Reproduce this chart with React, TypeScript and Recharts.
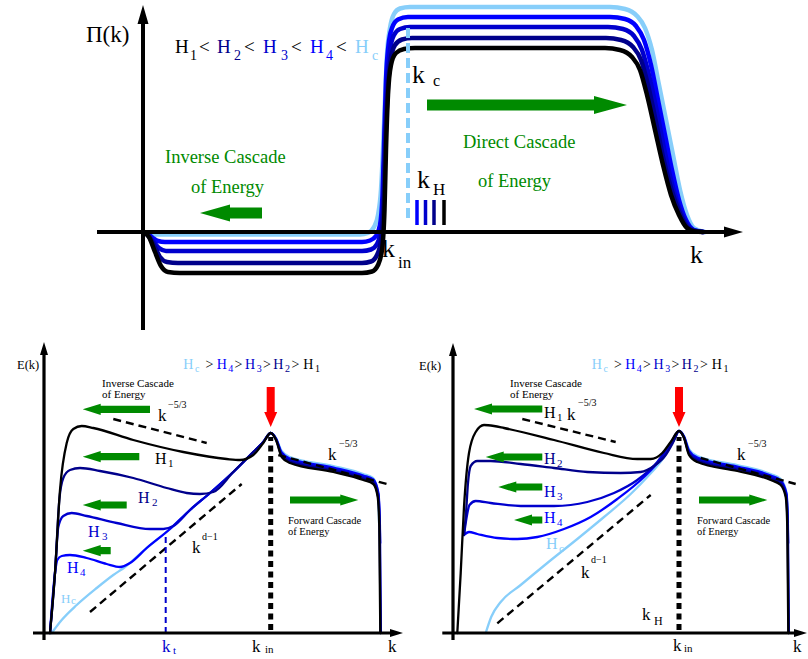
import React from 'react';
import { LineChart, Line, XAxis, YAxis, ReferenceLine } from 'recharts';

type Pt = [number, number];

// ---------- colours per helicity ----------
const C_H1 = '#000000';
const C_H2 = '#00008b';
const C_H3 = '#0000cd';
const C_H4 = '#0000ff';
const C_HC = '#87cefa';
const GREEN = '#008a00';
const RED = '#ff0000';

// ---------- top panel: flux Π(k) ----------
const topHc: Pt[] = [[0, 0], [0.6, -0.02], [1.5, -0.025], [21.7, -0.025], [22.5, -0.01], [23.1, 0.05], [23.5, 0.17], [23.8, 0.42], [24.0, 0.82], [24.2, 1.32], [24.4, 1.77], [24.7, 2.04], [25.1, 2.18], [25.7, 2.235], [26.7, 2.25], [46.7, 2.25], [48.2, 2.23], [49.4, 2.16], [50.2, 2.04], [50.9, 1.82], [51.6, 1.47], [52.3, 1.12], [53.0, 0.77], [53.7, 0.42], [54.4, 0.17], [55.1, 0.04], [56.2, 0]];
const topH4: Pt[] = [[0, 0], [0.5, -0.02], [1.0, -0.06], [1.5, -0.09], [2.2, -0.1], [21.9, -0.1], [22.7, -0.085], [23.3, -0.04], [23.7, 0.07], [23.95, 0.37], [24.15, 1.02], [24.3, 1.52], [24.55, 1.87], [24.9, 2.04], [25.5, 2.125], [26.5, 2.15], [46.7, 2.15], [48.2, 2.13], [49.3, 2.06], [50.1, 1.92], [50.8, 1.67], [51.5, 1.32], [52.2, 0.97], [52.9, 0.62], [53.6, 0.32], [54.3, 0.12], [55.1, 0.02], [56.1, 0]];
const topH3: Pt[] = [[0, 0], [0.5, -0.025], [1.0, -0.09], [1.6, -0.16], [2.3, -0.19], [3.2, -0.19], [21.9, -0.19], [22.8, -0.175], [23.4, -0.12], [23.8, 0.02], [24.05, 0.42], [24.2, 1.02], [24.4, 1.47], [24.7, 1.82], [25.1, 1.97], [25.7, 2.03], [26.7, 2.05], [46.5, 2.05], [48.0, 2.03], [49.1, 1.96], [49.9, 1.82], [50.6, 1.57], [51.4, 1.2], [52.1, 0.84], [52.8, 0.52], [53.6, 0.25], [54.3, 0.09], [55.1, 0.015], [56.0, 0]];
const topH2: Pt[] = [[0, 0], [0.5, -0.035], [1.1, -0.13], [1.7, -0.25], [2.4, -0.3], [3.5, -0.31], [21.9, -0.31], [22.8, -0.295], [23.4, -0.23], [23.8, -0.08], [24.1, 0.37], [24.25, 0.92], [24.45, 1.37], [24.75, 1.72], [25.2, 1.87], [25.9, 1.925], [26.9, 1.94], [46.3, 1.94], [47.8, 1.92], [49.0, 1.85], [49.8, 1.72], [50.5, 1.47], [51.3, 1.1], [52.0, 0.75], [52.8, 0.44], [53.6, 0.21], [54.3, 0.07], [55.1, 0.01], [56.0, 0]];
const topH1: Pt[] = [[0, 0], [0.6, -0.05], [1.2, -0.2], [1.8, -0.34], [2.5, -0.4], [3.7, -0.41], [21.9, -0.41], [22.9, -0.395], [23.5, -0.33], [23.9, -0.18], [24.15, 0.22], [24.3, 0.82], [24.5, 1.37], [24.8, 1.67], [25.3, 1.79], [26.1, 1.83], [27.2, 1.84], [46.2, 1.84], [47.7, 1.82], [48.9, 1.75], [49.7, 1.62], [50.4, 1.37], [51.2, 1.02], [52.0, 0.67], [52.8, 0.37], [53.6, 0.17], [54.4, 0.04], [55.2, 0.005], [56.0, 0]];
const topKc = 26.5;
const topKHBars = [27.4, 28.25, 29.1, 30.1];
const topKHColors = [C_H4, C_H3, C_H2, C_H1];

// ---------- bottom-left panel: E(k), k_t < k_in ----------
const blH1: Pt[] = [[0.6, 0], [1.1, 0.6], [1.6, 1.43], [2.27, 1.9], [2.93, 2.04], [3.77, 2.07], [4.93, 2.05], [8.93, 1.93], [13.93, 1.81], [18.27, 1.74], [19.6, 1.73], [20.93, 1.78], [21.93, 1.9], [22.67, 2.0], [23.2, 1.93], [23.77, 1.76], [24.6, 1.7], [28.93, 1.61], [31.93, 1.53], [32.93, 1.49], [33.37, 1.36], [33.53, 1.06], [33.63, 0]];
const blH2: Pt[] = [[0.6, 0], [1.1, 0.6], [1.53, 1.33], [1.93, 1.55], [2.6, 1.63], [3.6, 1.65], [5.6, 1.62], [8.93, 1.55], [12.27, 1.45], [14.27, 1.4], [15.6, 1.39], [16.93, 1.41], [18.93, 1.61], [20.93, 1.81], [21.93, 1.91], [22.67, 2.0], [23.2, 1.935], [23.77, 1.775], [24.6, 1.715], [28.93, 1.625], [31.93, 1.545], [32.93, 1.505], [33.4, 1.37], [33.56, 1.07], [33.66, 0]];
const blH3: Pt[] = [[0.6, 0], [1.1, 0.6], [1.43, 1.06], [1.93, 1.17], [2.77, 1.2], [4.27, 1.17], [7.27, 1.1], [10.6, 1.04], [11.93, 1.04], [12.93, 1.07], [14.6, 1.23], [16.6, 1.4], [18.93, 1.61], [20.93, 1.81], [21.93, 1.91], [22.67, 2.0], [23.2, 1.94], [23.77, 1.79], [24.6, 1.73], [28.93, 1.64], [31.93, 1.56], [32.93, 1.52], [33.43, 1.38], [33.59, 1.08], [33.69, 0]];
const blH4: Pt[] = [[0.6, 0], [1.1, 0.6], [1.33, 0.73], [1.77, 0.77], [2.6, 0.78], [4.27, 0.75], [6.27, 0.69], [7.6, 0.66], [8.6, 0.7], [10.27, 0.85], [12.6, 1.04], [14.6, 1.23], [16.6, 1.4], [18.93, 1.61], [20.93, 1.81], [21.93, 1.91], [22.67, 2.0], [23.2, 1.945], [23.77, 1.805], [24.6, 1.745], [28.93, 1.655], [31.93, 1.575], [32.93, 1.535], [33.46, 1.39], [33.62, 0.9]];
const blHc: Pt[] = [[0.77, 0], [1.77, 0.13], [3.27, 0.28], [5.27, 0.45], [6.93, 0.58], [8.1, 0.66], [10.27, 0.85], [12.6, 1.04], [14.6, 1.23], [16.6, 1.4], [18.93, 1.61], [20.93, 1.81], [21.93, 1.91], [22.67, 2.0], [23.2, 1.95], [23.77, 1.82], [24.6, 1.76], [28.93, 1.67], [31.93, 1.59], [32.9, 1.55], [33.4, 1.4], [33.5, 1.1]];
const blSlopeLeft: Pt[] = [[6.93, 2.14], [16.27, 1.9]];
const blSlopeRight: Pt[] = [[23.43, 1.78], [34.27, 1.49]];
const blSlopeDm1: Pt[] = [[4.6, 0.21], [19.77, 1.49]];
const blKin = 22.67;
const blKt = 12.17;
const blKtTop = 0.98;
const blInverseArrows: Pt[] = [[3.87, 10.6], [3.87, 9.53], [3.87, 8.27], [3.87, 6.67]];
const blInverseArrowE = [2.237, 1.763, 1.28, 0.823];

// ---------- bottom-right panel: E(k), k_H ----------
const brH1: Pt[] = [[0.43, 0], [0.77, 0.6], [1.1, 1.26], [1.6, 1.8], [2.27, 2.01], [3.1, 2.08], [4.1, 2.07], [5.1, 2.05], [10.1, 1.93], [15.1, 1.8], [18.43, 1.74], [19.77, 1.74], [20.93, 1.8], [21.77, 1.91], [22.6, 2.02], [23.1, 1.95], [23.6, 1.78], [24.43, 1.71], [28.43, 1.62], [31.77, 1.53], [32.77, 1.48], [33.27, 1.36], [33.43, 1.06], [33.53, 0]];
const brH2: Pt[] = [[1.1, 0.98], [1.3, 1.2], [1.5, 1.5], [1.77, 1.67], [2.43, 1.72], [3.77, 1.72], [6.77, 1.69], [10.1, 1.65], [13.43, 1.61], [16.77, 1.6], [18.77, 1.61], [20.1, 1.67], [21.27, 1.78], [22.03, 1.91], [22.6, 2.02], [23.1, 1.955], [23.6, 1.795], [24.43, 1.725], [28.43, 1.635], [31.77, 1.545], [32.77, 1.495], [33.3, 1.37], [33.46, 1.07], [33.56, 0]];
const brH3: Pt[] = [[1.1, 0.98], [1.35, 1.15], [1.65, 1.28], [2.27, 1.32], [3.77, 1.3], [6.77, 1.27], [10.1, 1.27], [13.43, 1.31], [16.1, 1.4], [18.43, 1.53], [20.43, 1.71], [21.77, 1.9], [22.6, 2.02], [23.1, 1.96], [23.6, 1.81], [24.43, 1.74], [28.43, 1.65], [31.77, 1.56], [32.77, 1.51], [33.33, 1.38], [33.49, 1.08], [33.59, 0]];
const brH4: Pt[] = [[1.1, 0.98], [1.6, 1.01], [2.43, 0.99], [4.43, 0.95], [6.43, 0.94], [8.43, 0.96], [11.1, 1.04], [13.77, 1.16], [16.43, 1.34], [19.1, 1.56], [21.1, 1.78], [22.1, 1.93], [22.6, 2.02], [23.1, 1.965], [23.6, 1.825], [24.43, 1.755], [28.43, 1.665], [31.77, 1.575], [32.77, 1.525], [33.36, 1.39], [33.52, 0.9]];
const brHc: Pt[] = [[3.27, 0], [3.83, 0.163], [4.77, 0.31], [6.77, 0.48], [9.43, 0.7], [12.43, 0.94], [15.1, 1.16], [17.77, 1.39], [19.43, 1.56], [21.1, 1.76], [22.1, 1.93], [22.6, 2.02], [23.1, 1.97], [23.6, 1.84], [24.43, 1.77], [28.43, 1.68], [31.77, 1.59], [32.77, 1.54], [33.36, 1.4], [33.5, 1.1]];
const brSlopeLeft: Pt[] = [[6.93, 2.14], [16.27, 1.91]];
const brSlopeRight: Pt[] = [[24.77, 1.75], [34.27, 1.49]];
const brSlopeDm1: Pt[] = [[4.43, 0.097], [19.77, 1.38]];
const brKin = 22.6;
const brInverseArrows: Pt[] = [[2.1, 8.93], [3.27, 8.93], [4.53, 8.93], [6.1, 8.93]];
const brInverseArrowE = [2.24, 1.76, 1.46, 1.13];

const FONT = '"Liberation Serif", "Times New Roman", Times, "DejaVu Serif", serif';

const toRows = (pts: Pt[]) => pts.map(([k, v]) => ({ k, v }));

function arrowShape(sw: number, hw: number, hl: number, fill: string) {
  return (p: any) => {
    const x1 = Number(p.x1), y1 = Number(p.y1), x2 = Number(p.x2), y2 = Number(p.y2);
    const dx = x2 - x1, dy = y2 - y1;
    const len = Math.hypot(dx, dy) || 1;
    const ux = dx / len, uy = dy / len;
    const nx = -uy, ny = ux;
    const bx = x2 - ux * hl, by = y2 - uy * hl;
    const pts = [
      [x1 + nx * sw, y1 + ny * sw],
      [bx + nx * sw, by + ny * sw],
      [bx + nx * hw, by + ny * hw],
      [x2, y2],
      [bx - nx * hw, by - ny * hw],
      [bx - nx * sw, by - ny * sw],
      [x1 - nx * sw, y1 - ny * sw],
    ];
    return <polygon points={pts.map((q) => q.join(',')).join(' ')} fill={fill} stroke="none" />;
  };
}

function curve(key: string, pts: Pt[], color: string, w: number) {
  return (
    <Line
      key={key}
      data={toRows(pts)}
      dataKey="v"
      type="monotone"
      stroke={color}
      strokeWidth={w}
      dot={false}
      activeDot={false}
      isAnimationActive={false}
      strokeLinecap="round"
      strokeLinejoin="round"
    />
  );
}

function guide(key: string, pts: Pt[]) {
  return (
    <Line
      key={key}
      data={toRows(pts)}
      dataKey="v"
      type="linear"
      stroke="#000"
      strokeWidth={2.4}
      strokeDasharray="8 5"
      dot={false}
      activeDot={false}
      isAnimationActive={false}
    />
  );
}

function arrow(key: string, from: Pt, to: Pt, shape: (p: any) => any) {
  return (
    <ReferenceLine
      key={key}
      segment={[{ x: from[0], y: from[1] }, { x: to[0], y: to[1] }]}
      ifOverflow="visible"
      shape={shape}
    />
  );
}

function vline(key: string, k: number, e0: number, e1: number, color: string, w: number, dash: string) {
  return (
    <ReferenceLine
      key={key}
      segment={[{ x: k, y: e0 }, { x: k, y: e1 }]}
      ifOverflow="visible"
      stroke={color}
      strokeWidth={w}
      strokeDasharray={dash}
    />
  );
}

function Panel(props: { left: number; top: number; width: number; height: number; xd: [number, number]; yd: [number, number]; children: any }) {
  const { left, top, width, height, xd, yd, children } = props;
  return (
    <div style={{ position: 'absolute', left, top, width, height }}>
      <LineChart width={width} height={height} margin={{ top: 0, right: 0, bottom: 0, left: 0 }}>
        <XAxis type="number" dataKey="k" domain={xd} hide allowDataOverflow />
        <YAxis type="number" domain={yd} hide allowDataOverflow />
        {children}
      </LineChart>
    </div>
  );
}

const T = (p: { x: number; y: number; s: number; c?: string; children: any }) => (
  <text x={p.x} y={p.y} fill={p.c || '#000'} style={{ fontFamily: FONT, fontSize: p.s }}>
    {p.children}
  </text>
);

function BottomTitle({ dx }: { dx: number }) {
  const items: [string, number, number, number, string][] = [
    ['H', 183.3, 369, 14, C_HC], ['c', 195, 372, 10, C_HC], ['>', 205.5, 369, 14, '#000'],
    ['H', 216.7, 369, 14, C_H4], ['4', 228.3, 372, 10, C_H4], ['>', 234.5, 369, 14, '#000'],
    ['H', 245, 369, 14, C_H3], ['3', 256.7, 372, 10, C_H3], ['>', 263, 369, 14, '#000'],
    ['H', 273.3, 369, 14, C_H2], ['2', 285, 372, 10, C_H2], ['>', 291.5, 369, 14, '#000'],
    ['H', 303.3, 369, 14, C_H1], ['1', 315, 372, 10, C_H1],
  ];
  return (
    <g>
      {items.map((it, i) => (
        <T key={i} x={it[1] + dx} y={it[2]} s={it[3]} c={it[4]}>{it[0]}</T>
      ))}
    </g>
  );
}

export default function App() {
  const bigAxis = arrowShape(2, 5.5, 19, '#000');
  const smallAxis = arrowShape(1.6, 4, 13, '#000');
  const greenBig = arrowShape(5.5, 9, 33, GREEN);
  const greenBigInv = arrowShape(5.5, 8.5, 30, GREEN);
  const greenSmall = arrowShape(3.6, 5.6, 18, GREEN);
  const redArrow = arrowShape(4, 6.5, 15, RED);

  const topTitle: [string, number, number, number, string][] = [
    ['H', 175, 53, 19, C_H1], ['1', 190, 60, 14, C_H1], ['<', 199, 53, 19, '#000'],
    ['H', 217, 53, 19, C_H2], ['2', 234, 60, 14, C_H2], ['<', 244, 53, 19, '#000'],
    ['H', 263, 53, 19, C_H3], ['3', 281, 60, 14, C_H3], ['<', 291, 53, 19, '#000'],
    ['H', 310, 53, 19, C_H4], ['4', 326, 60, 14, C_H4], ['<', 336, 53, 19, '#000'],
    ['H', 355, 53, 19, C_HC], ['c', 372, 60, 14, C_HC],
  ];

  return (
    <div style={{ position: 'absolute', left: 0, top: 0, width: 808, height: 659, background: '#fff', overflow: 'hidden', fontFamily: FONT }}>
      {/* ---------- top ---------- */}
      <Panel left={0} top={0} width={808} height={335} xd={[-14.3, 66.5]} yd={[-1.03, 2.32]}>
        {curve('thc', topHc, C_HC, 4.5)}
        {curve('th4', topH4, C_H4, 4.5)}
        {curve('th3', topH3, C_H3, 4.5)}
        {curve('th2', topH2, C_H2, 4.5)}
        {curve('th1', topH1, C_H1, 4.5)}
        {arrow('tax', [-4.6, 0], [60.0, 0], bigAxis)}
        {arrow('tay', [0, -0.98], [0, 2.27], bigAxis)}
        {vline('tkc', topKc, 2.04, 0.09, C_HC, 4, '10 5')}
        {topKHBars.map((k, i) => vline('tkh' + i, k, 0.32, 0.07, topKHColors[i], 3.5, ''))}
        {arrow('tgd', [28.4, 1.27], [48.4, 1.27], greenBig)}
        {arrow('tgi', [11.9, 0.19], [5.7, 0.19], greenBigInv)}
      </Panel>

      {/* ---------- bottom left ---------- */}
      <Panel left={0} top={340} width={404} height={319} xd={[-4.4, 36]} yd={[-0.26, 2.93]}>
        {curve('bhc', blHc, C_HC, 2.3)}
        {curve('bh4', blH4, C_H4, 2.3)}
        {curve('bh3', blH3, C_H3, 2.3)}
        {curve('bh2', blH2, C_H2, 2.3)}
        {curve('bh1', blH1, C_H1, 2.3)}
        {guide('bg1', blSlopeLeft)}
        {guide('bg2', blSlopeRight)}
        {guide('bg3', blSlopeDm1)}
        {vline('bkin', blKin, 0.03, 1.96, '#000', 5, '6 4.5')}
        {vline('bkt', blKt, 0, blKtTop, C_H3, 2, '6 4')}
        {arrow('bax', [-1.1, 0], [35.9, 0], smallAxis)}
        {arrow('bay', [0, -0.07], [0, 2.91], smallAxis)}
        {arrow('bred', [blKin, 2.46], [blKin, 2.06], redArrow)}
        {blInverseArrows.map((a, i) => arrow('bgi' + i, [a[1], blInverseArrowE[i]], [a[0], blInverseArrowE[i]], greenSmall))}
        {arrow('bgf', [24.6, 1.33], [31.43, 1.33], greenSmall)}
      </Panel>

      {/* ---------- bottom right ---------- */}
      <Panel left={404} top={340} width={404} height={319} xd={[-4.9, 35.5]} yd={[-0.26, 2.93]}>
        {curve('rhc', brHc, C_HC, 2.3)}
        {curve('rh4', brH4, C_H4, 2.3)}
        {curve('rh3', brH3, C_H3, 2.3)}
        {curve('rh2', brH2, C_H2, 2.3)}
        {curve('rh1', brH1, C_H1, 2.3)}
        {guide('rg1', brSlopeLeft)}
        {guide('rg2', brSlopeRight)}
        {guide('rg3', brSlopeDm1)}
        {vline('rkin', brKin, 0.03, 1.96, '#000', 5, '6 4.5')}
        {arrow('rax', [-1.07, 0], [35.4, 0], smallAxis)}
        {arrow('ray', [0, -0.07], [0, 2.9], smallAxis)}
        {arrow('rred', [brKin, 2.46], [brKin, 2.06], redArrow)}
        {brInverseArrows.map((a, i) => arrow('rgi' + i, [a[1], brInverseArrowE[i]], [a[0], brInverseArrowE[i]], greenSmall))}
        {arrow('rgf', [24.6, 1.33], [31.43, 1.33], greenSmall)}
      </Panel>

      {/* ---------- text ---------- */}
      <svg width={808} height={659} style={{ position: 'absolute', left: 0, top: 0, pointerEvents: 'none' }}>
        {/* top */}
        <T x={86} y={42} s={23}>Π(k)</T>
        {topTitle.map((it, i) => (
          <T key={i} x={it[1]} y={it[2]} s={it[3]} c={it[4]}>{it[0]}</T>
        ))}
        <T x={412} y={83} s={26}>k</T>
        <T x={433} y={86} s={16}>c</T>
        <T x={463} y={148} s={18.5} c={GREEN}>Direct Cascade</T>
        <T x={478} y={187} s={18.5} c={GREEN}>of Energy</T>
        <T x={417} y={188} s={26}>k</T>
        <T x={433} y={195} s={17}>H</T>
        <T x={165} y={163} s={18.5} c={GREEN}>Inverse Cascade</T>
        <T x={191} y={193} s={18.5} c={GREEN}>of Energy</T>
        <T x={382} y={257} s={26}>k</T>
        <T x={398} y={268} s={17}>in</T>
        <T x={690} y={263} s={26}>k</T>

        {/* bottom left */}
        <T x={17} y={369} s={12.5}>E(k)</T>
        <BottomTitle dx={0} />
        <T x={102} y={387} s={11}>Inverse Cascade</T>
        <T x={102} y={398} s={11}>of Energy</T>
        <T x={158} y={421} s={17}>k</T>
        <T x={168} y={408} s={10}>−5/3</T>
        <T x={155} y={464} s={16}>H</T>
        <T x={168} y={467} s={11}>1</T>
        <T x={138} y={503} s={16} c={C_H2}>H</T>
        <T x={152} y={506} s={11} c={C_H2}>2</T>
        <T x={88} y={537} s={16} c={C_H3}>H</T>
        <T x={102} y={540} s={11} c={C_H3}>3</T>
        <T x={67} y={573} s={16} c={C_H4}>H</T>
        <T x={80} y={576} s={11} c={C_H4}>4</T>
        <T x={61} y={603} s={13} c={C_HC}>H</T>
        <T x={71} y={604} s={11} c={C_HC}>c</T>
        <T x={192} y={553} s={17}>k</T>
        <T x={202} y={540} s={10}>d−1</T>
        <T x={328} y={460} s={17}>k</T>
        <T x={339} y={447} s={10}>−5/3</T>
        <T x={288} y={524} s={10.5}>Forward Cascade</T>
        <T x={288} y={535} s={10.5}>of Energy</T>
        <T x={162} y={652} s={17} c={C_H3}>k</T>
        <T x={173} y={654} s={11} c={C_H3}>t</T>
        <T x={252} y={652} s={17}>k</T>
        <T x={265} y={653} s={11}>in</T>
        <T x={388} y={652} s={17}>k</T>

        {/* bottom right */}
        <T x={419} y={370} s={12.5}>E(k)</T>
        <BottomTitle dx={408.5} />
        <T x={510} y={387} s={11}>Inverse Cascade</T>
        <T x={510} y={398} s={11}>of Energy</T>
        <T x={544} y={418} s={16}>H</T>
        <T x={557} y={421} s={11}>1</T>
        <T x={567} y={420} s={17}>k</T>
        <T x={578} y={406} s={10}>−5/3</T>
        <T x={544} y={464} s={16} c={C_H2}>H</T>
        <T x={557} y={467} s={11} c={C_H2}>2</T>
        <T x={544} y={497} s={16} c={C_H3}>H</T>
        <T x={557} y={500} s={11} c={C_H3}>3</T>
        <T x={544} y={523} s={16} c={C_H4}>H</T>
        <T x={557} y={526} s={11} c={C_H4}>4</T>
        <T x={546} y={549} s={16} c={C_HC}>H</T>
        <T x={559} y={552} s={11} c={C_HC}>c</T>
        <T x={581} y={578} s={17}>k</T>
        <T x={591} y={563} s={10}>d−1</T>
        <T x={737} y={460} s={17}>k</T>
        <T x={748} y={447} s={10}>−5/3</T>
        <T x={697} y={524} s={10.5}>Forward Cascade</T>
        <T x={697} y={535} s={10.5}>of Energy</T>
        <T x={642} y={620} s={17}>k</T>
        <T x={654} y={625} s={12}>H</T>
        <T x={673} y={651} s={17}>k</T>
        <T x={684} y={652} s={11}>in</T>
        <T x={793} y={652} s={17}>k</T>
      </svg>
    </div>
  );
}
